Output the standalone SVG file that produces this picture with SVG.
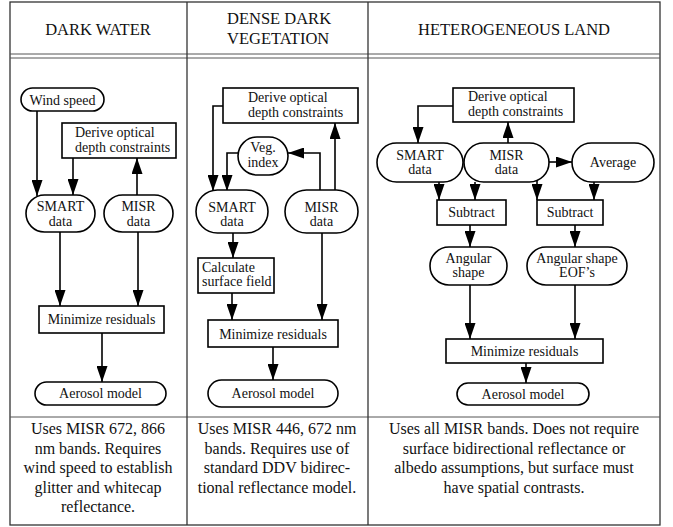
<svg xmlns="http://www.w3.org/2000/svg" width="673" height="527" viewBox="0 0 673 527">
<style>
.frame{fill:none;stroke:#333;stroke-width:1.3}
.sep{stroke:#555;stroke-width:1}
.box{fill:#fff;stroke:#000;stroke-width:1.6}
.t{font-family:"Liberation Serif","Times New Roman",serif;font-size:14px;fill:#111}
.c{text-anchor:middle}
.h{font-family:"Liberation Serif","Times New Roman",serif;font-size:16.5px;fill:#111}
.f{font-family:"Liberation Serif","Times New Roman",serif;font-size:16px;fill:#111;text-anchor:middle}
.e{fill:none;stroke:#000;stroke-width:1.6;marker-end:url(#ah)}
</style>
<defs>
<marker id="ah" markerUnits="userSpaceOnUse" markerWidth="17" markerHeight="11" refX="16" refY="5.5" orient="auto">
<path d="M0,0 L16,5.5 L0,11 z" fill="#000"/>
</marker>
</defs>
<rect x="0" y="0" width="673" height="527" fill="#fff"/>
<g id="table">
<rect class="frame" x="10" y="2" width="650" height="523"/>
<line class="sep" x1="10" y1="54" x2="660" y2="54"/>
<line class="sep" x1="10" y1="58" x2="660" y2="58"/>
<line class="sep" x1="10" y1="417" x2="660" y2="417"/>
<line class="frame" x1="187" y1="2" x2="187" y2="525"/>
<line class="frame" x1="368" y1="2" x2="368" y2="525"/>
<text class="h c" x="98" y="35">DARK WATER</text>
<text class="h" x="227" y="24">DENSE DARK</text>
<text class="h" x="227" y="44">VEGETATION</text>
<text class="h c" x="514" y="35">HETEROGENEOUS LAND</text>
<text class="f" x="98" y="434">Uses MISR 672, 866</text>
<text class="f" x="98" y="453.5">nm bands. Requires</text>
<text class="f" x="98" y="473">wind speed to establish</text>
<text class="f" x="98" y="492.5">glitter and whitecap</text>
<text class="f" x="98" y="512">reflectance.</text>
<text class="f" x="277" y="434">Uses MISR 446, 672 nm</text>
<text class="f" x="277" y="453.5">bands. Requires use of</text>
<text class="f" x="277" y="473">standard DDV bidirec-</text>
<text class="f" x="277" y="492.5">tional reflectance model.</text>
<text class="f" x="514" y="434">Uses all MISR bands. Does not require</text>
<text class="f" x="514" y="453.5">surface bidirectional reflectance or</text>
<text class="f" x="514" y="473">albedo assumptions, but surface must</text>
<text class="f" x="514" y="492.5">have spatial contrasts.</text>
</g>
<g id="connectors">
<path class="e" d="M37,111 V196"/>
<path class="e" d="M73,158 V195"/>
<path class="e" d="M137,195 V158"/>
<path class="e" d="M60,232 V306"/>
<path class="e" d="M138,232 V306"/>
<path class="e" d="M102,333 V382"/>
<path class="e" d="M223,106 H213 V191"/>
<path class="e" d="M238,153 H227 V191"/>
<path class="e" d="M320,190 V153 H288"/>
<path class="e" d="M335,190 V123"/>
<path class="e" d="M233,233 V258"/>
<path class="e" d="M232,293 V320"/>
<path class="e" d="M322,233 V320"/>
<path class="e" d="M273,347 V380"/>
<path class="e" d="M453,106 H418 V143"/>
<path class="e" d="M508,143 V122"/>
<path class="e" d="M549,162 H572"/>
<path class="e" d="M439,182 V200"/>
<path class="e" d="M475,182 V200"/>
<path class="e" d="M537,180 V200"/>
<path class="e" d="M594,182 V200"/>
<path class="e" d="M470,225 V247"/>
<path class="e" d="M575,225 V247"/>
<path class="e" d="M470,285 V339"/>
<path class="e" d="M575,285 V339"/>
<path class="e" d="M526,363 V383"/>
</g>
<g id="dw-wind"><rect class="box" x="21" y="88" width="83" height="23" rx="11.5"/><text class="t c" x="62.5" y="104.5">Wind speed</text></g>
<g id="dw-derive"><rect class="box" x="62" y="123" width="114" height="35"/><text class="t" x="75" y="137">Derive optical</text><text class="t" x="75" y="152">depth constraints</text></g>
<g id="dw-smart"><rect class="box" x="26" y="195" width="69" height="37" rx="18.5"/><text class="t c" x="60.5" y="211">SMART</text><text class="t c" x="60.5" y="226">data</text></g>
<g id="dw-misr"><rect class="box" x="104" y="195" width="69" height="37" rx="18.5"/><text class="t c" x="138.5" y="211">MISR</text><text class="t c" x="138.5" y="226">data</text></g>
<g id="dw-min"><rect class="box" x="39" y="306" width="125" height="27"/><text class="t c" x="101.5" y="324">Minimize residuals</text></g>
<g id="dw-aero"><rect class="box" x="35" y="382" width="131" height="23" rx="11.5"/><text class="t c" x="100.5" y="398">Aerosol model</text></g>
<g id="ddv-derive"><rect class="box" x="223" y="88" width="135" height="35"/><text class="t" x="248" y="101.5">Derive optical</text><text class="t" x="248" y="117">depth constraints</text></g>
<g id="ddv-veg"><rect class="box" x="238" y="137" width="50" height="38" rx="19"/><text class="t c" x="263" y="152">Veg.</text><text class="t c" x="263" y="166.5">index</text></g>
<g id="ddv-smart"><rect class="box" x="196" y="190" width="72" height="43" rx="21.5"/><text class="t c" x="232" y="211.5">SMART</text><text class="t c" x="232" y="225.5">data</text></g>
<g id="ddv-misr"><rect class="box" x="285" y="190" width="73" height="43" rx="21.5"/><text class="t c" x="321.5" y="211.5">MISR</text><text class="t c" x="321.5" y="225.5">data</text></g>
<g id="ddv-calc"><rect class="box" x="198" y="258" width="76" height="35"/><text class="t" x="202" y="271.5">Calculate</text><text class="t" x="202" y="286">surface field</text></g>
<g id="ddv-min"><rect class="box" x="208" y="320" width="130" height="27"/><text class="t c" x="273" y="338.5">Minimize residuals</text></g>
<g id="ddv-aero"><rect class="box" x="208" y="380" width="130" height="27" rx="13.5"/><text class="t c" x="273" y="398">Aerosol model</text></g>
<g id="hl-derive"><rect class="box" x="453" y="88" width="121" height="34"/><text class="t" x="468" y="100.5">Derive optical</text><text class="t" x="468" y="116">depth constraints</text></g>
<g id="hl-smart"><rect class="box" x="377" y="143" width="86" height="39" rx="19.5"/><text class="t c" x="420" y="159.5">SMART</text><text class="t c" x="420" y="174">data</text></g>
<g id="hl-misr"><rect class="box" x="464" y="143" width="85" height="39" rx="19.5"/><text class="t c" x="506.5" y="159.5">MISR</text><text class="t c" x="506.5" y="174">data</text></g>
<g id="hl-avg"><rect class="box" x="572" y="143" width="82" height="39" rx="19.5"/><text class="t c" x="613" y="167">Average</text></g>
<g id="hl-sub1"><rect class="box" x="437" y="200" width="69" height="25"/><text class="t c" x="471.5" y="217">Subtract</text></g>
<g id="hl-sub2"><rect class="box" x="537" y="200" width="66" height="25"/><text class="t c" x="570" y="217">Subtract</text></g>
<g id="hl-ang"><rect class="box" x="430" y="247" width="77" height="38" rx="19"/><text class="t c" x="468.5" y="262.5">Angular</text><text class="t c" x="468.5" y="277">shape</text></g>
<g id="hl-eof"><rect class="box" x="527" y="247" width="100" height="38" rx="19"/><text class="t c" x="577" y="262.5">Angular shape</text><text class="t c" x="577" y="277">EOF’s</text></g>
<g id="hl-min"><rect class="box" x="446" y="339" width="157" height="24"/><text class="t c" x="524.5" y="356">Minimize residuals</text></g>
<g id="hl-aero"><rect class="box" x="457" y="383" width="132" height="22" rx="11"/><text class="t c" x="523" y="398.5">Aerosol model</text></g>
</svg>
